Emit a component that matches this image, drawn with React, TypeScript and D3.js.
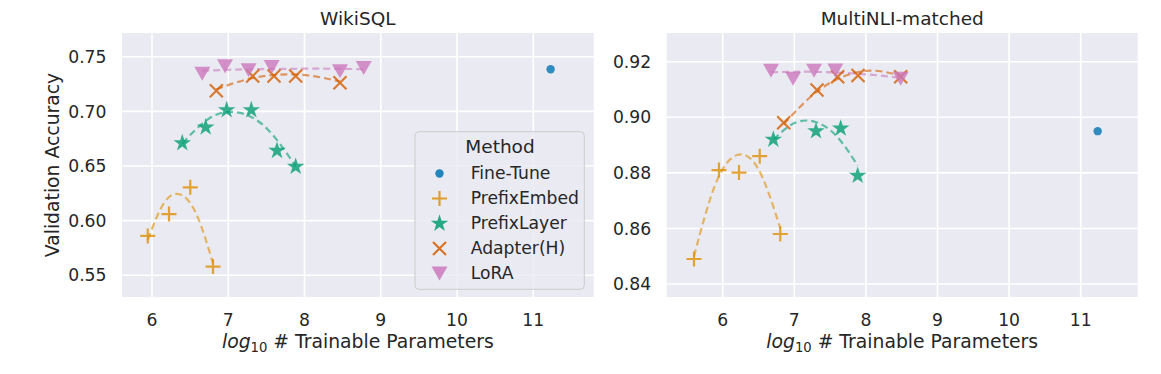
import React, { useEffect } from 'react';
import * as d3 from 'd3';

// ---- data ----
const METHODS = ['Fine-Tune', 'PrefixEmbed', 'PrefixLayer', 'Adapter(H)', 'LoRA'];
const X_TICKS = [6, 7, 8, 9, 10, 11];
const WIKI_Y_TICKS = [0.55, 0.6, 0.65, 0.7, 0.75];
const MNLI_Y_TICKS = [0.84, 0.86, 0.88, 0.9, 0.92];

type Pt = [number, number];

const wikiFineTune: Pt[] = [[11.227, 0.7385]];
const wikiPrefixEmbed: Pt[] = [[5.944, 0.586], [6.223, 0.606], [6.502, 0.6305], [6.8, 0.558]];
const wikiPrefixLayer: Pt[] = [[6.397, 0.671], [6.704, 0.6854], [6.979, 0.7012], [7.302, 0.7012], [7.639, 0.664], [7.884, 0.6494]];
const wikiAdapter: Pt[] = [[6.843, 0.7189], [7.32, 0.7323], [7.6, 0.7323], [7.884, 0.7323], [8.465, 0.7262]];
const wikiLoRA: Pt[] = [[6.659, 0.7344], [6.957, 0.7412], [7.267, 0.7376], [7.569, 0.7406], [8.465, 0.7367], [8.776, 0.7397]];

// dashed trend curves
const wikiPrefixEmbedFit: Pt[] = [[5.944, 0.5825], [6.158, 0.6162], [6.372, 0.6239], [6.586, 0.6054], [6.8, 0.5609]];
const wikiPrefixLayerFit: Pt[] = [[6.397, 0.6706], [6.769, 0.6944], [7.14, 0.6988], [7.512, 0.6839], [7.884, 0.6497]];
const wikiAdapterFit: Pt[] = [[6.843, 0.7202], [7.249, 0.7293], [7.654, 0.7335], [8.06, 0.7328], [8.465, 0.7272]];
const wikiLoRAFit: Pt[] = [[6.659, 0.7372], [7.188, 0.7384], [7.718, 0.7389], [8.247, 0.739], [8.776, 0.7386]];

const mnliFineTune: Pt[] = [[11.237, 0.895]];
const mnliPrefixEmbed: Pt[] = [[5.599, 0.849], [5.948, 0.881], [6.228, 0.8801], [6.517, 0.886], [6.804, 0.858]];
const mnliPrefixLayer: Pt[] = [[6.707, 0.892], [7.303, 0.895], [7.648, 0.896], [7.885, 0.879]];
const mnliAdapter: Pt[] = [[6.852, 0.898], [7.317, 0.9098], [7.606, 0.9146], [7.89, 0.915], [8.486, 0.9146]];
const mnliLoRA: Pt[] = [[6.675, 0.9167], [6.983, 0.9139], [7.276, 0.9167], [7.573, 0.9168], [8.486, 0.9139]];

const mnliPrefixEmbedFit: Pt[] = [[5.599, 0.85], [5.9, 0.876], [6.201, 0.8864], [6.503, 0.8811], [6.804, 0.8601]];
const mnliPrefixLayerFit: Pt[] = [[6.707, 0.892], [7.002, 0.8979], [7.296, 0.8983], [7.591, 0.8932], [7.885, 0.8826]];
const mnliAdapterFit: Pt[] = [[6.852, 0.8975], [7.261, 0.9081], [7.669, 0.9145], [8.078, 0.9168], [8.486, 0.915]];
const mnliLoRAFit: Pt[] = [[6.675, 0.9162], [7.128, 0.9164], [7.58, 0.9161], [8.033, 0.9154], [8.486, 0.9142]];

const COLORS: Record<string, string> = {
  'Fine-Tune': '#0173b2',
  PrefixEmbed: '#de8f05',
  PrefixLayer: '#029e73',
  'Adapter(H)': '#d55e00',
  LoRA: '#cc78bc',
};

const FONT = 'DejaVu Sans, sans-serif';
const TXT = '#262626';
const TICK_FS = 17.2;
const LABEL_FS = 18.8;
const TITLE_FS = 18.5;

// marker glyphs
const Marker: React.FC<{ m: string; x: number; y: number; op?: number }> = ({ m, x, y, op = 0.8 }) => {
  const c = COLORS[m];
  const t = `translate(${x},${y})`;
  if (m === 'Fine-Tune') return <circle cx={x} cy={y} r={4.2} fill={c} opacity={op} />;
  if (m === 'PrefixEmbed')
    return <path transform={t} d="M-7.5,0H7.5M0,-7.5V7.5" stroke={c} strokeWidth={2.2} opacity={op} fill="none" />;
  if (m === 'Adapter(H)')
    return <path transform={t} d="M-6.5,-6.5L6.5,6.5M-6.5,6.5L6.5,-6.5" stroke={c} strokeWidth={2.2} opacity={op} fill="none" />;
  if (m === 'PrefixLayer')
    return <path transform={t} d={d3.symbol(d3.symbolStar, 95)() || ''} fill={c} opacity={op} />;
  // LoRA: down triangle
  return <path transform={t} d="M0,7L-8,-7L8,-7Z" fill={c} opacity={op} />;
};

interface PanelProps {
  title: string;
  left: number;
  right: number;
  top: number;
  bottom: number;
  xs: d3.ScaleLinear<number, number>;
  ys: d3.ScaleLinear<number, number>;
  yTicks: number[];
  series: [string, Pt[]][];
  fits: [string, Pt[]][];
  legend?: boolean;
  ylabel?: boolean;
}

const Panel: React.FC<PanelProps> = ({ title, left, right, top, bottom, xs, ys, yTicks, series, fits, legend, ylabel }) => {
  const line = d3.line<Pt>().x(d => xs(d[0])).y(d => ys(d[1])).curve(d3.curveNatural);
  const cx = (left + right) / 2;
  return (
    <g fontFamily={FONT}>
      <rect x={left} y={top} width={right - left} height={bottom - top} fill="#eaeaf2" />
      {X_TICKS.map(t => (
        <line key={'gx' + t} x1={xs(t)} x2={xs(t)} y1={top} y2={bottom} stroke="#fff" strokeWidth={1.6} />
      ))}
      {yTicks.map(t => (
        <line key={'gy' + t} x1={left} x2={right} y1={ys(t)} y2={ys(t)} stroke="#fff" strokeWidth={1.6} />
      ))}
      {X_TICKS.map(t => (
        <text key={'tx' + t} x={xs(t)} y={326} textAnchor="middle" fontSize={TICK_FS} fill={TXT}>{t}</text>
      ))}
      {yTicks.map(t => (
        <text key={'ty' + t} x={left - 15.5} y={ys(t)} dy="0.36em" textAnchor="end" fontSize={TICK_FS} fill={TXT}>
          {d3.format('.2f')(t)}
        </text>
      ))}
      <text x={cx} y={25} textAnchor="middle" fontSize={TITLE_FS} fill={TXT}>{title}</text>
      <text x={cx} y={348} textAnchor="middle" fontSize={LABEL_FS} fill={TXT}>
        <tspan fontStyle="italic">log</tspan>
        <tspan fontSize={13.2} dy={4}>10</tspan>
        <tspan dy={-4}> # Trainable Parameters</tspan>
      </text>
      {ylabel && (
        <text transform={`translate(59.3,${(top + bottom) / 2}) rotate(-90)`} textAnchor="middle" fontSize={LABEL_FS} fill={TXT}>
          Validation Accuracy
        </text>
      )}
      {fits.map(([m, pts]) => (
        <path key={'f' + m} d={line(pts) || ''} fill="none" stroke={COLORS[m]} strokeWidth={2.2} strokeDasharray="7,4" opacity={0.6} />
      ))}
      {series.map(([m, pts]) => (
        <g key={'s' + m}>
          {pts.map((p, i) => <Marker key={i} m={m} x={xs(p[0])} y={ys(p[1])} />)}
        </g>
      ))}
      {legend && (
        <g>
          <rect x={415} y={131.7} width={169.3} height={157.6} rx={4} fill="#eaeaf2" fillOpacity={0.8} stroke="#cccccc" strokeWidth={1} />
          <text x={500} y={153.3} textAnchor="middle" fontSize={TITLE_FS} fill={TXT}>Method</text>
          {METHODS.map((m, i) => (
            <g key={'l' + m}>
              <Marker m={m} x={439.5} y={173.5 + i * 25} op={0.85} />
              <text x={470.7} y={179 + i * 25} fontSize={TICK_FS} fill={TXT}>{m}</text>
            </g>
          ))}
        </g>
      )}
    </g>
  );
};

export default function App() {
  useEffect(() => {
    document.body.style.margin = '0';
  }, []);

  const xL = d3.scaleLinear().domain([6, 11]).range([152, 533.3]);
  const yL = d3.scaleLinear().domain([0.55, 0.75]).range([275.3, 56.7]);
  const xR = d3.scaleLinear().domain([6, 11]).range([722.7, 1080.7]);
  const yR = d3.scaleLinear().domain([0.84, 0.92]).range([284, 61.7]);

  return (
    <svg width={1161} height={374} style={{ display: 'block', background: '#fff' }}>
      <Panel
        title="WikiSQL"
        left={122} right={593.7} top={33} bottom={297}
        xs={xL} ys={yL} yTicks={WIKI_Y_TICKS}
        series={[
          ['Fine-Tune', wikiFineTune],
          ['PrefixEmbed', wikiPrefixEmbed],
          ['PrefixLayer', wikiPrefixLayer],
          ['Adapter(H)', wikiAdapter],
          ['LoRA', wikiLoRA],
        ]}
        fits={[
          ['PrefixEmbed', wikiPrefixEmbedFit],
          ['PrefixLayer', wikiPrefixLayerFit],
          ['Adapter(H)', wikiAdapterFit],
          ['LoRA', wikiLoRAFit],
        ]}
        legend
        ylabel
      />
      <Panel
        title="MultiNLI-matched"
        left={666.7} right={1137.7} top={33} bottom={297}
        xs={xR} ys={yR} yTicks={MNLI_Y_TICKS}
        series={[
          ['Fine-Tune', mnliFineTune],
          ['PrefixEmbed', mnliPrefixEmbed],
          ['PrefixLayer', mnliPrefixLayer],
          ['Adapter(H)', mnliAdapter],
          ['LoRA', mnliLoRA],
        ]}
        fits={[
          ['PrefixEmbed', mnliPrefixEmbedFit],
          ['PrefixLayer', mnliPrefixLayerFit],
          ['Adapter(H)', mnliAdapterFit],
          ['LoRA', mnliLoRAFit],
        ]}
      />
    </svg>
  );
}
